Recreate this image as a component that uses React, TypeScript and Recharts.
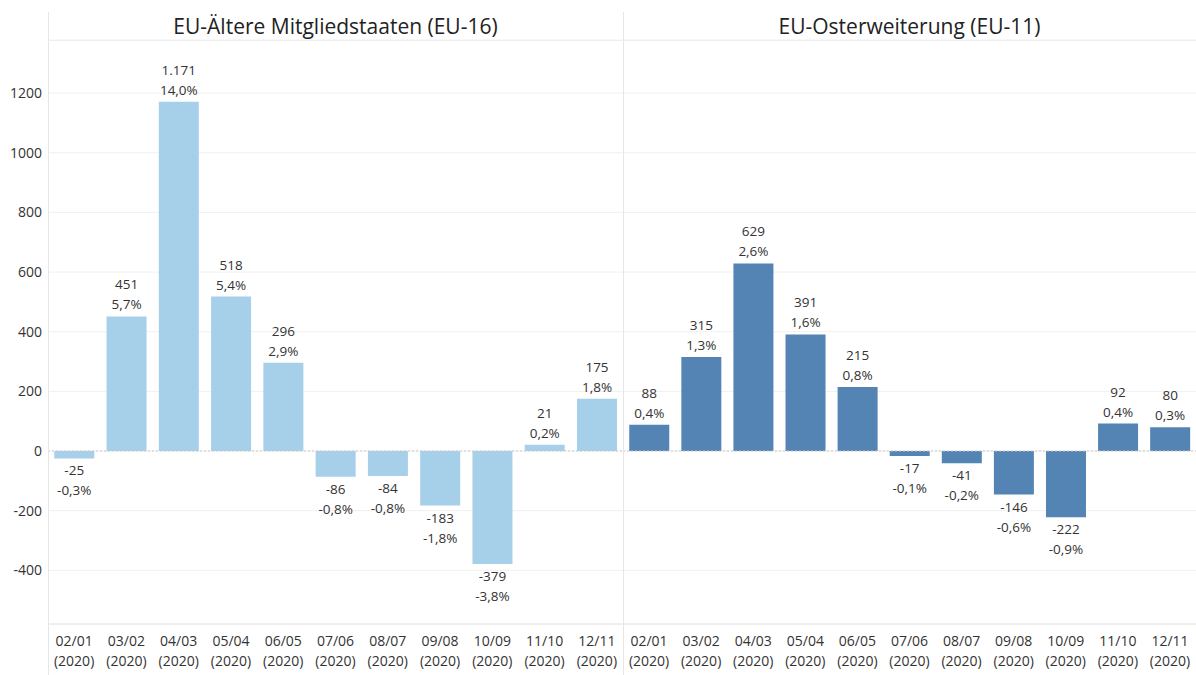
import { BarChart, Bar, XAxis, YAxis, CartesianGrid, Cell, LabelList, ReferenceLine } from "recharts";

const months = ["02/01", "03/02", "04/03", "05/04", "06/05", "07/06", "08/07", "09/08", "10/09", "11/10", "12/11"];
const years = ["2020", "2020", "2020", "2020", "2020", "2020", "2020", "2020", "2020", "2020", "2020"];

const eu16Values = [-25, 451, 1171, 518, 296, -86, -84, -183, -379, 21, 175];
const eu16Pct = [-0.3, 5.7, 14.0, 5.4, 2.9, -0.8, -0.8, -1.8, -3.8, 0.2, 1.8];

const eu11Values = [88, 315, 629, 391, 215, -17, -41, -146, -222, 92, 80];
const eu11Pct = [0.4, 1.3, 2.6, 1.6, 0.8, -0.1, -0.2, -0.6, -0.9, 0.4, 0.3];

const yTicks = [-400, -200, 0, 200, 400, 600, 800, 1000, 1200];

const FONT = "'Open Sans', sans-serif";
const TEXT = "#333333";
const LINE = "#e6e6e6";

const toRows = (values: number[], pct: number[]) =>
  months.map((m, i) => ({ month: m, year: years[i], value: values[i], pct: pct[i] }));

const eu16 = toRows(eu16Values, eu16Pct);
const eu11 = toRows(eu11Values, eu11Pct);

const fmtNum = (n: number) => new Intl.NumberFormat("de-DE").format(n);
const fmtPct = (n: number) => n.toFixed(1).replace(".", ",") + "%";

const XTick = (props: any) => {
  const { x, y, payload, index } = props;
  return (
    <text x={x} y={y} textAnchor="middle" fill={TEXT} fontSize={14} fontFamily={FONT}>
      <tspan x={x} dy={14}>{payload.value}</tspan>
      <tspan x={x} dy={20}>({years[index] ?? "2020"})</tspan>
    </text>
  );
};

const makeLabel = (rows: any[]) => (props: any) => {
  const { x, y, width, height, index } = props;
  const row = rows[index];
  const cx = x + width / 2;
  const top = Math.min(y, y + height);
  const bottom = Math.max(y, y + height);
  if (row.value >= 0) {
    return (
      <text textAnchor="middle" fill={TEXT} fontSize={13.5} fontFamily={FONT}>
        <tspan x={cx} y={top - 27}>{fmtNum(row.value)}</tspan>
        <tspan x={cx} y={top - 7}>{fmtPct(row.pct)}</tspan>
      </text>
    );
  }
  return (
    <text textAnchor="middle" fill={TEXT} fontSize={13.5} fontFamily={FONT}>
      <tspan x={cx} y={bottom + 17}>{fmtNum(row.value)}</tspan>
      <tspan x={cx} y={bottom + 37}>{fmtPct(row.pct)}</tspan>
    </text>
  );
};

function Panel({ rows, color, width, showAxis }: { rows: any[]; color: string; width: number; showAxis: boolean }) {
  return (
    <BarChart
      width={width}
      height={675}
      data={rows}
      margin={{ top: 40, right: 0, bottom: 0, left: 0 }}
      barCategoryGap="12%"
    >
      <CartesianGrid horizontal vertical={false} stroke="#f0f0f0" />
      <XAxis
        dataKey="month"
        interval={0}
        height={51}
        tickLine={false}
        axisLine={{ stroke: LINE }}
        tick={<XTick />}
      />
      <YAxis
        hide={!showAxis}
        width={48}
        domain={[-580, 1378]}
        allowDataOverflow
        ticks={yTicks}
        axisLine={false}
        tickLine={false}
        tick={{ fill: TEXT, fontSize: 14, fontFamily: FONT }}
        tickMargin={0}
      />
      <ReferenceLine y={0} stroke="#c8c8c8" strokeDasharray="2 2" />
      <Bar dataKey="value" isAnimationActive={false}>
        {rows.map((_, i) => (
          <Cell key={i} fill={color} />
        ))}
        <LabelList dataKey="value" content={makeLabel(rows)} />
      </Bar>
    </BarChart>
  );
}

export default function App() {
  return (
    <div style={{ position: "absolute", left: 0, top: 0, width: 1196, height: 675, background: "#fff", fontFamily: FONT }}>
      <div style={{ position: "absolute", left: 0, top: 0 }}>
        <Panel rows={eu16} color="#a6cfe9" width={623} showAxis />
      </div>
      <div style={{ position: "absolute", left: 623, top: 0 }}>
        <Panel rows={eu11} color="#5384b4" width={573} showAxis={false} />
      </div>
      {/* panel frame */}
      <div style={{ position: "absolute", left: 48, top: 12, width: 1, height: 663, background: LINE }} />
      <div style={{ position: "absolute", left: 623, top: 12, width: 1, height: 663, background: LINE }} />
      <div style={{ position: "absolute", left: 48, top: 40, width: 1148, height: 1, background: "#eeeeee" }} />
      <div style={{ position: "absolute", left: 48, top: 12, width: 575, height: 28, display: "flex", alignItems: "center", justifyContent: "center", fontSize: 21, color: "#222" }}>
        EU-Ältere Mitgliedstaaten (EU-16)
      </div>
      <div style={{ position: "absolute", left: 623, top: 12, width: 573, height: 28, display: "flex", alignItems: "center", justifyContent: "center", fontSize: 21, color: "#222" }}>
        EU-Osterweiterung (EU-11)
      </div>
    </div>
  );
}
